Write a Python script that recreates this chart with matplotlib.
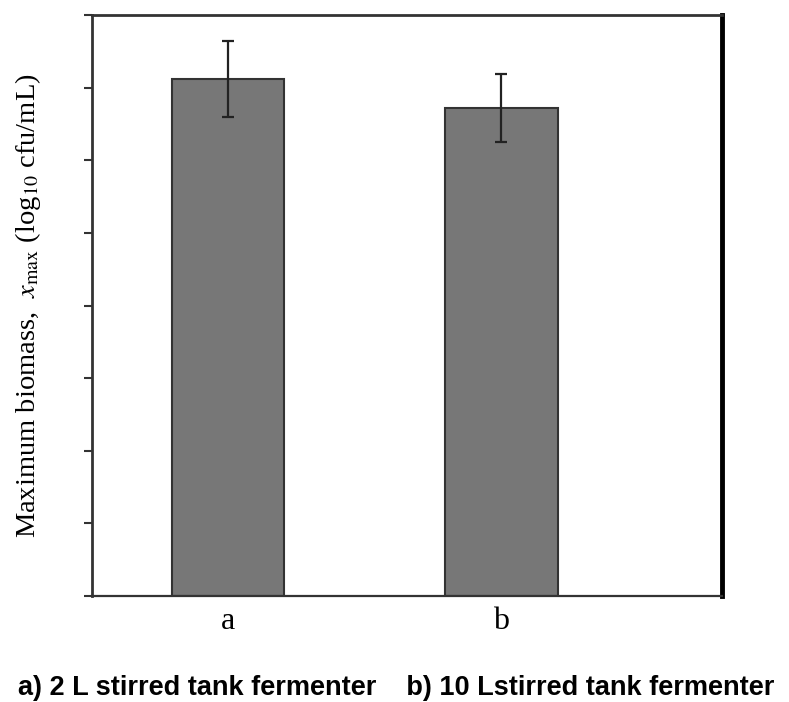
import numpy as np
import matplotlib
matplotlib.use("Agg")
from matplotlib import pyplot as plt

plt.rcParams["mathtext.fontset"] = "stix"

# fermenter data: max biomass (log10 cfu/mL) with std dev
labels = ["a", "b"]
xmax = [7.12, 6.72]
err = [0.52, 0.47]
caption = "a) 2 L stirred tank fermenter    b) 10 Lstirred tank fermenter"

fig = plt.figure(figsize=(7.89, 7.02), dpi=100)
ax = fig.add_axes([0.1166, 0.151, 0.7984, 0.8276])

pos = np.arange(len(labels))
ax.bar(pos, xmax, width=0.41, color="#777777", edgecolor="#333333", linewidth=1.5,
       yerr=err, capsize=4.5, error_kw=dict(ecolor="#222222", elinewidth=1.6, capthick=1.6))

ax.set_xlim(-0.497, 1.806)
ax.set_ylim(0, 8)
ax.set_yticks(np.arange(0, 9, 1))
ax.set_yticklabels([])
ax.tick_params(axis="y", direction="out", length=6, width=1.5, color="#333333")
ax.set_xticks(pos)
ax.set_xticklabels(labels, family="Liberation Serif", fontsize=23)
ax.tick_params(axis="x", length=0, pad=8)

for s in ["left", "top", "bottom"]:
    ax.spines[s].set_linewidth(2)
    ax.spines[s].set_color("#333333")
ax.spines["bottom"].set_linewidth(1.6)
ax.spines["right"].set_linewidth(3.5)
ax.spines["right"].set_color("black")

ax.set_ylabel(r"Maximum biomass,  $x_{\mathrm{max}}$ (log$_{10}$ cfu/mL)",
              family="Liberation Serif", fontsize=20.5)
ax.yaxis.set_label_coords(-0.078, 0.5)

fig.text(0.502, 0.02, caption, ha="center", va="center",
         family="Liberation Sans", fontweight="bold", fontsize=19.5)

fig.savefig("out.png", dpi=100)
